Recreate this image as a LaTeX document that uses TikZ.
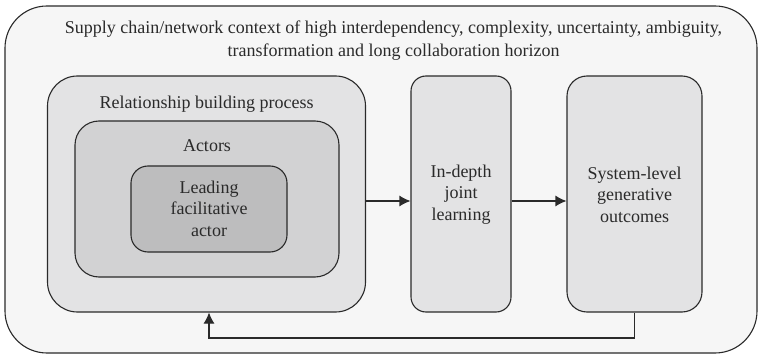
\documentclass[tikz,border=0pt]{standalone}
\usepackage{fontspec}
\setmainfont{Liberation Serif}
\usetikzlibrary{arrows.meta}
\definecolor{ctxfill}{HTML}{F6F6F6}
\definecolor{lvlone}{HTML}{E3E3E4}
\definecolor{lvltwo}{HTML}{D2D2D3}
\definecolor{lvlthree}{HTML}{BDBDBE}
\definecolor{ink}{HTML}{2A2A2A}
\begin{document}
\begin{tikzpicture}[x=1pt,y=-1pt,
  frame/.style={draw=ink, line width=1.1pt, rectangle, inner sep=0pt},
  lbl/.style={text=ink, font=\fontsize{18}{21.5}\selectfont, align=center, inner sep=0pt},
  flow/.style={draw=ink, line width=1.1pt, -{Latex[length=11pt,width=11pt]}}
]
\useasboundingbox (0,0) rectangle (763,358);
% context frame
\node[frame, fill=ctxfill, rounded corners=42pt, minimum width=752pt, minimum height=347pt] (ctx) at (381,179.5) {};
\node[lbl, font=\fontsize{18}{23}\selectfont] (ctxtext) at (393.5,41) {Supply chain/network context of high interdependency, complexity, uncertainty, ambiguity,\\transformation and long collaboration horizon};
% nested relationship boxes
\node[frame, fill=lvlone, rounded corners=30pt, minimum width=318pt, minimum height=236pt] (rel) at (206.5,194) {};
\node[lbl] (reltext) at (206.5,104) {Relationship building process};
\node[frame, fill=lvltwo, rounded corners=24pt, minimum width=264pt, minimum height=156pt] (act) at (207,199) {};
\node[lbl] (acttext) at (207,146) {Actors};
\node[frame, fill=lvlthree, rounded corners=17pt, minimum width=156pt, minimum height=86pt] (lead) at (209,209) {};
\node[lbl] (leadtext) at (209,208.5) {Leading\\facilitative\\actor};
% learning and outcomes
\node[frame, fill=lvlone, rounded corners=15pt, minimum width=100pt, minimum height=236pt] (learn) at (461,194) {};
\node[lbl] (learntext) at (461,194.5) {In-depth\\joint\\learning};
\node[frame, fill=lvlone, rounded corners=20pt, minimum width=135pt, minimum height=236pt] (sys) at (634.5,194) {};
\node[lbl] (systext) at (634.5,194.5) {System-level\\generative\\outcomes};
% connectors
\coordinate (row) at (0,201);
\coordinate (fb) at (209,338);
\draw[flow] (rel.east |- row) -- (learn.west |- row);
\draw[flow] (learn.east |- row) -- (sys.west |- row);
\draw[flow] (sys.south) |- (fb) -- (rel.south -| fb);
\end{tikzpicture}
\end{document}
